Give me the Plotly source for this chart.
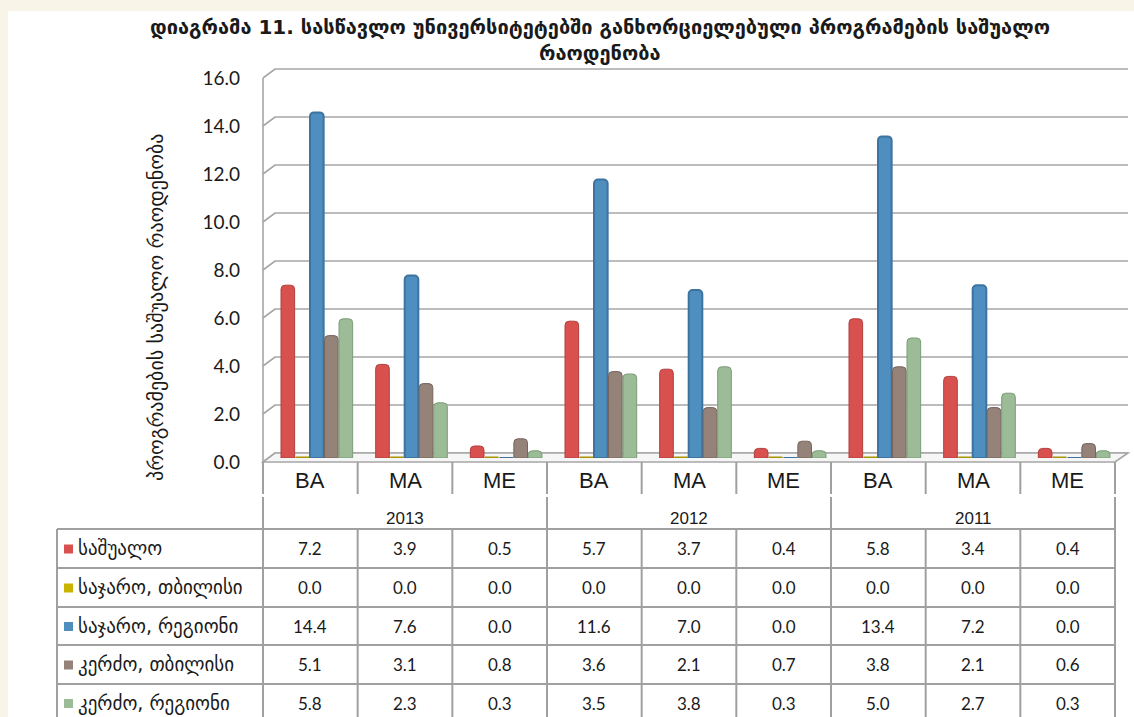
import plotly.graph_objects as go

# ---------------- data ----------------
years = ["2013", "2012", "2011"]
programs = ["BA", "MA", "ME"]
series_names = ["საშუალო", "საჯარო, თბილისი", "საჯარო, რეგიონი", "კერძო, თბილისი", "კერძო, რეგიონი"]
avg_all      = [7.2, 3.9, 0.5, 5.7, 3.7, 0.4, 5.8, 3.4, 0.4]
pub_tbilisi  = [0.0, 0.0, 0.0, 0.0, 0.0, 0.0, 0.0, 0.0, 0.0]
pub_region   = [14.4, 7.6, 0.0, 11.6, 7.0, 0.0, 13.4, 7.2, 0.0]
priv_tbilisi = [5.1, 3.1, 0.8, 3.6, 2.1, 0.7, 3.8, 2.1, 0.6]
priv_region  = [5.8, 2.3, 0.3, 3.5, 3.8, 0.3, 5.0, 2.7, 0.3]
y_ticks = [0, 2, 4, 6, 8, 10, 12, 14, 16]
title_line1 = "დიაგრამა 11. სასწავლო უნივერსიტეტებში განხორციელებული პროგრამების საშუალო"
title_line2 = "რაოდენობა"
y_title = "პროგრამების საშუალო რაოდენობა"

# ---------------- styles ----------------
colors = ["#d9514e", "#c9b300", "#4f8fc0", "#958279", "#9cbc98"]
edge_colors = ["#b13f3c", "#a89500", "#3c73a0", "#76655d", "#7b9c77"]
edge_widths = [1, 3, 2, 1, 1]
W, H = 1134, 717
GEO = "DejaVu Sans"
NUM = "Lato, Open Sans, sans-serif"
LAT = "Liberation Sans Narrow, Liberation Sans, Arial"
GRID = "#a6a6a6"
TBL = "#a0a0a0"

def px(x):
    return x / W

def py(y):
    return 1 - y / H

series = [avg_all, pub_tbilisi, pub_region, priv_tbilisi, priv_region]
cats = [(y, p) for y in years for p in programs]
n = len(cats)
xs = list(range(n))

fig = go.Figure()
for name, vals, c, ec, ew in zip(series_names, series, colors, edge_colors, edge_widths):
    fig.add_trace(go.Bar(x=xs, y=vals, name=name,
                         marker=dict(color=c, line=dict(color=ec, width=ew), cornerradius=4),
                         showlegend=False, xaxis="x", yaxis="y"))
fig.add_trace(go.Scatter(x=[None], y=[None], xaxis="x2", yaxis="y2", showlegend=False, hoverinfo="skip"))

shapes = []
shapes.append(dict(type="rect", xref="paper", yref="paper", x0=px(8), x1=1, y0=0, y1=py(11),
                   fillcolor="white", line=dict(width=0), layer="below"))
for v in y_ticks:
    shapes.append(dict(type="path", xref="paper", yref="paper",
                       path=f"M {px(263)},{py(462 - 24*v)} L {px(275)},{py(453 - 24*v)} L {px(1128)},{py(453 - 24*v)}",
                       line=dict(color=GRID, width=1.6), layer="below"))
shapes.append(dict(type="line", xref="paper", yref="paper", x0=px(263), x1=px(263), y0=py(462), y1=py(78),
                   line=dict(color=GRID, width=1.6), layer="below"))
shapes.append(dict(type="path", xref="paper", yref="paper",
                   path=f"M {px(263)},{py(462)} L {px(275)},{py(453)} L {px(1128)},{py(453)} L {px(1115)},{py(462)} Z",
                   fillcolor="#f6f6f6", line=dict(color=GRID, width=1.6), layer="below"))

col_w = (1115 - 263) / n
for k in range(n + 1):
    xk = 263 + k * col_w
    shapes.append(dict(type="line", xref="paper", yref="paper", x0=px(xk), x1=px(xk), y0=py(462), y1=py(494),
                       line=dict(color=TBL, width=2)))
    y_start = 497 if k % 3 == 0 else 529
    shapes.append(dict(type="line", xref="paper", yref="paper", x0=px(xk), x1=px(xk), y0=py(y_start), y1=0,
                       line=dict(color=TBL, width=2)))
shapes.append(dict(type="line", xref="paper", yref="paper", x0=px(57), x1=px(57), y0=py(529), y1=0,
                   line=dict(color=TBL, width=2)))
row_lines = [529, 568, 607, 645, 684]
for yl in row_lines:
    shapes.append(dict(type="line", xref="paper", yref="paper", x0=px(57), x1=px(1115), y0=py(yl), y1=py(yl),
                       line=dict(color=TBL, width=2)))

annotations = []
annotations.append(dict(text=f"<b>{title_line1}</b>", x=px(600), y=py(27), xref="paper", yref="paper",
                        showarrow=False, font=dict(family=GEO, size=20, color="#1a1a1a"), xanchor="center", yanchor="middle"))
annotations.append(dict(text=f"<b>{title_line2}</b>", x=px(600), y=py(53), xref="paper", yref="paper",
                        showarrow=False, font=dict(family=GEO, size=20, color="#1a1a1a"), xanchor="center", yanchor="middle"))
annotations.append(dict(text=y_title, x=px(156), y=py(307), xref="paper", yref="paper", textangle=-90,
                        showarrow=False, font=dict(family=GEO, size=20, color="#1a1a1a"), xanchor="center", yanchor="middle"))
for i, (yr, pg) in enumerate(cats):
    annotations.append(dict(text=pg, x=i, y=py(480), xref="x2", yref="paper", showarrow=False,
                            font=dict(family=LAT, size=22, color="#1a1a1a"), xanchor="center", yanchor="middle"))
for j, yr in enumerate(years):
    annotations.append(dict(text=yr, x=3 * j + 1, y=py(518), xref="x2", yref="paper", showarrow=False,
                            font=dict(family=LAT, size=17, color="#1a1a1a"), xanchor="center", yanchor="middle"))
row_centers = [548.5, 587.5, 626, 664.5, 703]
for r, (name, vals, c) in enumerate(zip(series_names, series, colors)):
    yc = row_centers[r]
    shapes.append(dict(type="rect", xref="paper", yref="paper", x0=px(64), x1=px(73), y0=py(yc + 5), y1=py(yc - 4),
                       fillcolor=c, line=dict(width=0)))
    annotations.append(dict(text=name, x=px(76), y=py(yc), xref="paper", yref="paper", showarrow=False,
                            font=dict(family=GEO, size=19, color="#1a1a1a"), xanchor="left", yanchor="middle"))
    for i, v in enumerate(vals):
        annotations.append(dict(text=f"{v:.1f}", x=i, y=py(yc), xref="x2", yref="paper", showarrow=False,
                                font=dict(family=NUM, size=17, color="#1a1a1a"), xanchor="center", yanchor="middle"))

fig.update_layout(
    width=W, height=H, margin=dict(l=0, r=0, t=0, b=0, pad=0, autoexpand=False),
    paper_bgcolor="#f8f4e8", plot_bgcolor="rgba(0,0,0,0)",
    barmode="group", bargap=0.234, bargroupgap=0.06,
    xaxis=dict(domain=[px(269.5), px(1121.5)], range=[-0.5, n - 0.5], visible=False, anchor="y",
               fixedrange=True, automargin=False),
    yaxis=dict(domain=[py(458), py(74)], range=[0, 16], visible=False, anchor="x", fixedrange=True, automargin=False),
    xaxis2=dict(domain=[px(263), px(1115)], range=[-0.5, n - 0.5], visible=False, anchor="y2",
                fixedrange=True, automargin=False),
    yaxis2=dict(domain=[py(462), py(78)], range=[0, 16], anchor="x2", tickvals=y_ticks,
                ticktext=[f"{v:.1f}" for v in y_ticks], showgrid=False, zeroline=False, showline=False,
                ticks="", ticklabelstandoff=22, tickfont=dict(family=NUM, size=19, color="#1a1a1a"),
                fixedrange=True, automargin=False),
    shapes=shapes, annotations=annotations, showlegend=False,
)
fig.write_html("out.html", config={"displayModeBar": False},
               post_script="document.body.style.margin='0';document.body.style.overflow='hidden';")
